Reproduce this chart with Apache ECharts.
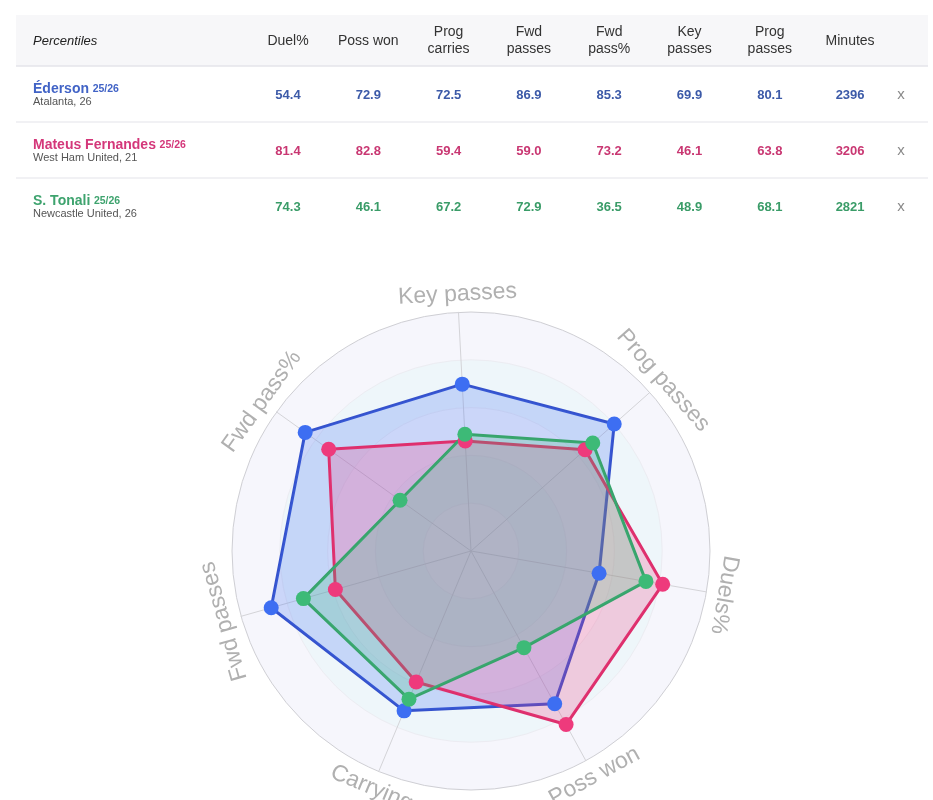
<!DOCTYPE html>
<html>
<head>
<meta charset="utf-8">
<title>Percentiles radar</title>
<script src="https://cdn.jsdelivr.net/npm/echarts@6/dist/echarts.min.js"></script>
<style>
  html, body { margin: 0; padding: 0; background: #fff; }
  #chart { width: 933px; height: 800px; }
</style>
</head>
<body>
<div id="chart"></div>
<script>
// table columns (percentiles + minutes)
const statHeaders = ['Duel%', 'Poss won', 'Prog\ncarries', 'Fwd\npasses', 'Fwd\npass%', 'Key\npasses', 'Prog\npasses', 'Minutes']
const playerNames = ['Éderson', 'Mateus Fernandes', 'S. Tonali']
const playerClubs = ['Atalanta, 26', 'West Ham United, 21', 'Newcastle United, 26']
const season = '25/26'

// percentiles, same order as statHeaders
const edersonPct = [54.4, 72.9, 72.5, 86.9, 85.3, 69.9, 80.1]
const fernandesPct = [81.4, 82.8, 59.4, 59.0, 73.2, 46.1, 63.8]
const tonaliPct = [74.3, 46.1, 67.2, 72.9, 36.5, 48.9, 68.1]
const minutesPlayed = [2396, 3206, 2821]

// radar axes, counter-clockwise from the top, with index into the percentile arrays
const radarNames = ['Key passes', 'Fwd pass%', 'Fwd passes', 'Carrying', 'Poss won', 'Duels%', 'Prog passes']
const radarIdx = [5, 4, 3, 2, 1, 0, 6]

const allPct = [edersonPct, fernandesPct, tonaliPct]
const nameColors = ['#4163c6', '#d4377a', '#3ea36e']
const numColors = ['#3c5aa8', '#c93772', '#3a9c68']
const lineColors = ['#3552cc', '#dd2f6c', '#38a36c']
const dotColors = ['#3d6ef2', '#ee3a7c', '#3dba77']
const fontFamily = '"Liberation Sans", Arial, Helvetica, sans-serif'

const chart = echarts.init(document.getElementById('chart'))

const cx = 471
const cy = 551
const R = 239
const startAngle = 93

function txt(x, y, text, opts) {
  return {
    type: 'text',
    x: x,
    y: y,
    rotation: opts.rotation || 0,
    silent: true,
    style: Object.assign({
      text: text,
      fontFamily: fontFamily,
      fontSize: 13,
      fill: '#333',
      align: opts.align || 'center',
      textAlign: opts.align || 'center',
      verticalAlign: 'middle',
      textVerticalAlign: 'middle'
    }, opts.style || {})
  }
}

const graphics = []

// table header band + row separators
graphics.push({ type: 'rect', silent: true, shape: { x: 16, y: 15, width: 912, height: 51 }, style: { fill: '#f7f7f9' } })
graphics.push({ type: 'line', silent: true, shape: { x1: 16, y1: 66, x2: 928, y2: 66 }, style: { stroke: '#e4e4ea', lineWidth: 1.5 } })
;[122, 178].forEach(function (y) {
  graphics.push({ type: 'line', silent: true, shape: { x1: 16, y1: y, x2: 928, y2: y }, style: { stroke: '#ececf0', lineWidth: 1.5 } })
})
graphics.push(txt(33, 41, 'Percentiles', { align: 'left', style: { fontStyle: 'italic', fontSize: 13, fill: '#222' } }))

const colX = statHeaders.map(function (h, i) { return 288 + i * 80.3 })
statHeaders.forEach(function (h, i) {
  graphics.push(txt(colX[i], 41, h, { style: { fontSize: 14, lineHeight: 17, fill: '#333' } }))
})

const rowY = [95, 151, 207]
playerNames.forEach(function (name, k) {
  const y = rowY[k]
  graphics.push(txt(33, y - 6, '{n|' + name + '} {s|' + season + '}', {
    align: 'left',
    style: {
      rich: {
        n: { fontFamily: fontFamily, fontSize: 14, fontWeight: 'bold', fill: nameColors[k], color: nameColors[k] },
        s: { fontFamily: fontFamily, fontSize: 10.5, fontWeight: 'bold', fill: nameColors[k], color: nameColors[k] }
      }
    }
  }))
  graphics.push(txt(33, y + 6.5, playerClubs[k], { align: 'left', style: { fontSize: 11, fill: '#555' } }))
  allPct[k].forEach(function (v, i) {
    graphics.push(txt(colX[i], y, v.toFixed(1), { style: { fontSize: 13, fontWeight: 'bold', fill: numColors[k] } }))
  })
  graphics.push(txt(colX[7], y, String(minutesPlayed[k]), { style: { fontSize: 13, fontWeight: 'bold', fill: numColors[k] } }))
  graphics.push(txt(901, y, 'x', { style: { fontSize: 15, fill: '#8a8a8a' } }))
})

// radar axis names, set along the circle
radarNames.forEach(function (name, i) {
  const a = startAngle + i * 360 / radarNames.length
  const rad = a * Math.PI / 180
  let rot = ((a - 90) % 360 + 360) % 360
  if (rot > 120 && rot < 240) rot -= 180
  graphics.push(txt(cx + (R + 18) * Math.cos(rad), cy - (R + 18) * Math.sin(rad), name, {
    rotation: rot * Math.PI / 180,
    style: { fontSize: 23, fill: '#b0b0b0' }
  }))
})

chart.setOption({
  backgroundColor: '#fff',
  animation: false,
  graphic: graphics,
  radar: {
    center: [cx, cy],
    radius: R,
    startAngle: startAngle,
    shape: 'circle',
    splitNumber: 5,
    indicator: radarNames.map(function (n) { return { name: n, min: 0, max: 100 } }),
    axisName: { show: false },
    axisLine: { lineStyle: { color: '#d4d4d8', width: 1 } },
    // inner rings barely visible, outer ring stronger
    splitLine: { lineStyle: { color: ['#ececf2', '#ececf2', '#ececf2', '#ececf2', '#ececf2', '#cfcfd4'], width: 1 } },
    splitArea: { areaStyle: { color: ['#f6f6fc', '#eef6fa'] } }
  },
  series: [{
    type: 'radar',
    symbol: 'circle',
    symbolSize: 15,
    data: playerNames.map(function (name, k) {
      return {
        name: name,
        value: radarIdx.map(function (j) { return allPct[k][j] }),
        lineStyle: { color: lineColors[k], width: 3 },
        itemStyle: { color: dotColors[k], borderWidth: 0 },
        areaStyle: { color: dotColors[k], opacity: 0.23 }
      }
    })
  }]
})
</script>
</body>
</html>
